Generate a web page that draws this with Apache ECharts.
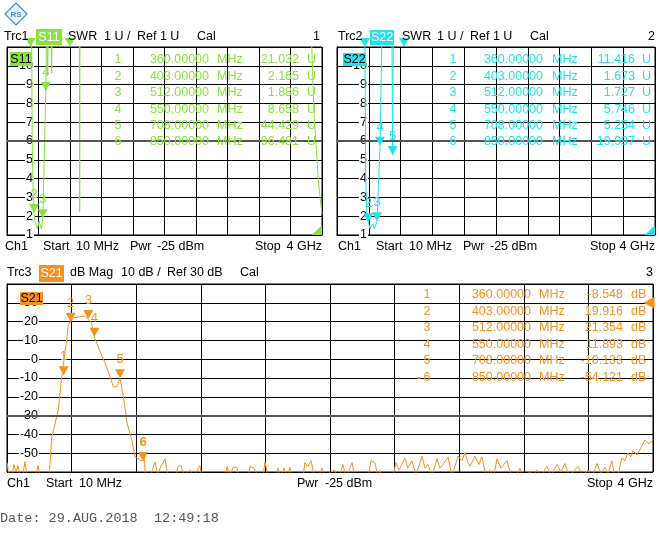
<!DOCTYPE html>
<html>
<head>
<meta charset="utf-8">
<script src="https://cdn.jsdelivr.net/npm/echarts@6/dist/echarts.min.js"></script>
<style>
html,body{margin:0;padding:0;background:#fff;}
#main{width:660px;height:543px;}
</style>
</head>
<body>
<div id="main"></div>
<script>
// markers (MHz) and marker readouts per trace
var mkFreq = [360, 403, 512, 550, 708, 850];
var s11Mk = [21.032, 2.165, 1.886, 8.658, 44.429, 96.481];
var s22Mk = [11.416, 1.673, 1.727, 5.746, 5.254, 19.997];
var s21Mk = [-8.548, 19.916, 21.354, 11.893, -10.133, -54.121];

// axis ranges
var swrRange = [1, 11];   // 1 U / div, Ref 1 U
var dbRange = [-60, 40];  // 10 dB / div, Ref 30 dB

// Trc1 S11 SWR
var s11Freq = [10, 200, 340, 360, 380, 395, 403, 418, 443, 468, 495, 512, 530, 550, 562, 573, 585, 612, 623, 634, 660, 708, 850, 945, 960, 973, 986, 1000, 1500, 2000, 2500, 3000, 3500, 3860, 3872, 3900, 3930, 3960, 4000];
var s11Swr  = [40, 35, 30, 21.032, 6, 2.6, 2.165, 1.7, 1.32, 1.75, 1.3, 1.886, 5.0, 8.658, 13, 9.5, 13, 14, 9.6, 14, 20, 44.429, 96.481, 60, 40, 2.24, 40, 60, 80, 70, 60, 50, 40, 25, 11, 7.5, 5.5, 3.6, 2.1];

// Trc2 S22 SWR
var s22Freq = [10, 300, 345, 360, 370, 385, 403, 424, 458, 478, 512, 530, 550, 575, 600, 680, 700, 708, 716, 740, 850, 1200, 2000, 3000, 4000];
var s22Swr  = [40, 30, 16, 11.416, 4, 2.2, 1.673, 1.35, 1.6, 1.32, 1.727, 3.6, 5.746, 12, 16, 14, 11, 5.254, 11, 15, 19.997, 30, 40, 35, 30];

// Trc3 S21 dB Mag
var s21Freq = [
  10, 22, 41, 53, 66, 78, 90, 109, 121, 134, 183, 202, 214, 263, 272, 286, 302, 327, 348, 360,
  375, 389, 403, 420, 461, 490, 512, 532, 550, 585, 616, 647, 667, 688, 708, 729, 752, 781, 801, 832,
  850, 858, 866, 893, 924, 943, 955, 986, 1004, 1048, 1066, 1085, 1103, 1140, 1159, 1202, 1214, 1356, 1369, 1387,
  1406, 1430, 1443, 1498, 1511, 1535, 1554, 1591, 1603, 1622, 1671, 1684, 1702, 1721, 1739, 1758, 1770, 1838, 1850, 1869,
  1888, 1906, 1931, 1955, 1974, 2030, 2061, 2085, 2104, 2141, 2159, 2240, 2258, 2283, 2301, 2314, 2332, 2394, 2412, 2431,
  2468, 2486, 2511, 2536, 2573, 2592, 2610, 2635, 2666, 2684, 2704, 2734, 2759, 2796, 2820, 2839, 2857, 2870, 2900, 2925,
  2943, 2968, 2993, 3017, 3036, 3061, 3079, 3098, 3117, 3141, 3160, 3178, 3197, 3240, 3259, 3283, 3308, 3345, 3370, 3407,
  3431, 3456, 3481, 3506, 3536, 3567, 3598, 3622, 3654, 3678, 3703, 3721, 3746, 3764, 3783, 3807, 3826, 3844, 3863, 3876,
  3900, 3919, 3950, 3975, 4000
];
var s21Db = [
  -55, -62, -62, -56, -60, -56.5, -62, -61, -54.5, -62, -63, -56.5, -63, -63, -60, -42, -36, -27, -9.4, -8.548,
  8, 18.5, 19.916, 22, 22.6, 23, 21.354, 19, 11.893, 4, -2, -9.4, -14.7, -14.7, -10.133, -20, -34, -43, -52, -53.7,
  -54.121, -52, -63, -63, -54.7, -62, -58, -53, -62, -63, -57, -56.5, -62, -59, -63, -56.5, -63, -63, -57, -62,
  -57.5, -57.5, -63, -63, -57, -58, -61, -63, -54.7, -62, -63, -58, -62, -58, -62, -57.5, -63, -63, -55, -57,
  -54, -61, -63, -58, -62, -59, -63, -56, -63, -55, -63, -63, -54, -55, -63, -59, -63, -63, -55, -59,
  -52.5, -58, -54, -62, -51.5, -58, -56, -62, -53, -58, -56, -52, -62, -51.5, -54, -49.7, -55, -57, -51.5, -56,
  -52, -62, -59, -62, -53, -58, -56, -54, -60, -62, -61, -58, -62, -60, -62, -59, -62, -57, -62, -56,
  -60, -55.5, -62, -60, -57, -62, -59, -63, -55.5, -61, -57.5, -61, -54, -63, -62, -52.5, -54, -50, -52, -48.6,
  -51, -48, -43, -45, -42.8
];

var c1 = '#8ae23e', c2 = '#22e2ea', c3 = '#f7901e';
var FONT = '"Liberation Sans", Arial, sans-serif';

function zip(a, b) { return a.map(function (v, i) { return [v, b[i]]; }); }

function frameX(gi) {
  return { gridIndex: gi, type: 'value', min: 0, max: 10, interval: 1,
    axisLine: { show: true, lineStyle: { color: '#000', width: 1 } },
    axisTick: { show: false }, axisLabel: { show: false },
    splitLine: { show: true, lineStyle: { color: '#000', width: 1 } } };
}
function dataX(gi, lo) {
  return { gridIndex: gi, type: 'value', min: lo, max: 4000, show: false, splitLine: { show: false } };
}
function yAx(gi, range, step, margin, showMin) {
  return { gridIndex: gi, type: 'value', min: range[0], max: range[1], interval: step,
    axisLine: { show: true, lineStyle: { color: '#000', width: 1 } },
    axisTick: { show: false },
    splitLine: { show: true, lineStyle: { color: '#000', width: 1 } },
    axisLabel: { inside: true, align: 'right', margin: margin, showMinLabel: showMin, showMaxLabel: false,
      color: '#000', fontSize: 12.5, fontFamily: FONT, backgroundColor: '#fff', padding: [0, 1] } };
}

// marker triangles; off-scale ones sit on the top edge
function markers(vals, top, color, refItem) {
  var d = vals.map(function (v, i) {
    var inRange = v <= top;
    return { name: String(i + 1), coord: [mkFreq[i], Math.min(v, top)],
      label: { show: inRange, fontWeight: i === 5 ? 'bold' : 'normal' } };
  });
  d.push(refItem);
  return { symbol: 'triangle', symbolRotate: 180, symbolSize: [10, 9], symbolOffset: [0, -4.5],
    itemStyle: { color: color }, silent: true,
    label: { position: 'top', distance: 3, formatter: '{b}', color: color, fontSize: 13, fontFamily: FONT },
    data: d };
}
function cornerRef(bottom) {
  return { name: '', coord: [4000, bottom], symbol: 'path://M10,0 L10,10 L0,10 Z', symbolRotate: 0,
    symbolSize: 10, symbolOffset: [-5, -5], label: { show: false } };
}

function trace(xi, yi, data, color, mk, center) {
  return { type: 'line', xAxisIndex: xi, yAxisIndex: yi, data: data, showSymbol: false, clip: true,
    animation: false, lineStyle: { color: color, width: 1 }, itemStyle: { color: color },
    markPoint: mk,
    markLine: { silent: true, symbol: 'none', label: { show: false },
      lineStyle: { color: '#555', width: 2, type: 'solid' }, data: [{ yAxis: center }] } };
}

// ---------- texts ----------
var G = [];
function txt(x, y, s, color, size, align, weight) {
  G.push({ type: 'text', x: x, y: y, z: 120, silent: true,
    style: { text: s, fill: color || '#000', font: (weight || 'normal') + ' ' + (size || 12.5) + 'px ' + FONT,
      textAlign: align || 'left', textVerticalAlign: 'middle', align: align || 'left', verticalAlign: 'middle' } });
}
function box(x, y, w, h, color, label, textColor) {
  G.push({ type: 'rect', z: 115, silent: true, shape: { x: x, y: y, width: w, height: h }, style: { fill: color } });
  txt(x + w / 2, y + h / 2 + 0.5, label, textColor, 12.5, 'center');
}

// logo
G.push({ type: 'polygon', z: 115, silent: true, shape: { points: [[16, 3], [27, 14], [16, 25], [5, 14]] },
  style: { fill: '#eaf3fc', stroke: '#3b8de0', lineWidth: 1.2 } });
txt(16, 14.5, 'RS', '#3b8de0', 8, 'center', 'bold');

// top-left header / footer
txt(4, 37, 'Trc1'); box(36, 29, 26, 16, c1, 'S11', '#fff');
txt(68, 37, 'SWR'); txt(104, 37, '1 U /'); txt(137, 37, 'Ref 1 U'); txt(197, 37, 'Cal'); txt(320, 37, '1', '#000', 12.5, 'right');
box(10, 52, 22, 14, c1, 'S11', '#000');
txt(5, 247, 'Ch1'); txt(43, 247, 'Start'); txt(76, 247, '10 MHz'); txt(130, 247, 'Pwr'); txt(157, 247, '-25 dBm');
txt(255, 247, 'Stop'); txt(322, 247, '4 GHz', '#000', 12.5, 'right');

// top-right header / footer
txt(338, 37, 'Trc2'); box(370, 30, 24, 15, c2, 'S22', '#fff');
txt(402, 37, 'SWR'); txt(437, 37, '1 U /'); txt(470, 37, 'Ref 1 U'); txt(530, 37, 'Cal'); txt(655, 37, '2', '#000', 12.5, 'right');
box(343, 53, 23, 13, c2, 'S22', '#000');
txt(338, 247, 'Ch1'); txt(376, 247, 'Start'); txt(409, 247, '10 MHz'); txt(463, 247, 'Pwr'); txt(490, 247, '-25 dBm');
txt(590, 247, 'Stop'); txt(655, 247, '4 GHz', '#000', 12.5, 'right');

// bottom header / footer
txt(7, 273, 'Trc3'); box(39, 265, 25, 17, c3, 'S21', '#fff');
txt(70, 273, 'dB Mag'); txt(121, 273, '10 dB /'); txt(167, 273, 'Ref 30 dB'); txt(240, 273, 'Cal'); txt(653, 273, '3', '#000', 12.5, 'right');
box(20, 292, 23, 13, c3, 'S21', '#000');
txt(7, 484, 'Ch1'); txt(46, 484, 'Start'); txt(79, 484, '10 MHz'); txt(297, 484, 'Pwr'); txt(325, 484, '-25 dBm');
txt(587, 484, 'Stop'); txt(653, 484, '4 GHz', '#000', 12.5, 'right');

G.push({ type: 'text', x: 0, y: 518, z: 120, silent: true,
  style: { text: 'Date: 29.AUG.2018  12:49:18', fill: '#555', font: '13.5px "Liberation Mono", monospace',
    textVerticalAlign: 'middle', verticalAlign: 'middle' } });

// marker tables
var tables = [
  { vals: s11Mk, unit: 'U', color: c1, numX: 118, fR: 209, mX: 217, vR: 299, uX: 307, y0: 60, dy: 16.4 },
  { vals: s22Mk, unit: 'U', color: c2, numX: 453, fR: 543, mX: 552, vR: 635, uX: 642, y0: 60, dy: 16.4 },
  { vals: s21Mk, unit: 'dB', color: c3, numX: 427, fR: 531, mX: 539, vR: 623, uX: 631, y0: 295, dy: 16.5 }
];
tables.forEach(function (t) {
  mkFreq.forEach(function (f, i) {
    var y = t.y0 + i * t.dy;
    txt(t.numX, y, String(i + 1), t.color, 12.5, 'center');
    txt(t.fR, y, f.toFixed(5), t.color, 12.5, 'right');
    txt(t.mX, y, 'MHz', t.color, 12.5, 'left');
    txt(t.vR, y, t.vals[i].toFixed(3), t.color, 12.5, 'right');
    txt(t.uX, y, t.unit, t.color, 12.5, 'left');
  });
});
txt(419, 295 + 5 * 16.5, '\u2022', c3, 8, 'center');

var chart = echarts.init(document.getElementById('main'));
chart.setOption({
  animation: false,
  backgroundColor: '#fff',
  grid: [
    { left: 7, top: 47, width: 315, height: 188, show: true, borderColor: '#000', borderWidth: 1, backgroundColor: '#fff' },
    { left: 337, top: 47, width: 318, height: 188, show: true, borderColor: '#000', borderWidth: 1, backgroundColor: '#fff' },
    { left: 7, top: 284, width: 646, height: 188, show: true, borderColor: '#000', borderWidth: 1, backgroundColor: '#fff' }
  ],
  xAxis: [frameX(0), dataX(0, 65), frameX(1), dataX(1, 10), frameX(2), dataX(2, 10)],
  yAxis: [yAx(0, swrRange, 1, 27, true), yAx(1, swrRange, 1, 31, true), yAx(2, dbRange, 10, 32, false)],
  series: [
    trace(1, 0, zip(s11Freq, s11Swr), c1, markers(s11Mk, swrRange[1], c1, cornerRef(swrRange[0])), 6),
    trace(3, 1, zip(s22Freq, s22Swr), c2, markers(s22Mk, swrRange[1], c2, cornerRef(swrRange[0])), 6),
    trace(5, 2, zip(s21Freq, s21Db), c3, markers(s21Mk, dbRange[1], c3,
      { name: '', coord: [4000, 30], symbolRotate: 90, symbolSize: [12, 11], symbolOffset: [-4, 0], label: { show: false } }), -30)
  ],
  graphic: { elements: G }
});
</script>
</body>
</html>
